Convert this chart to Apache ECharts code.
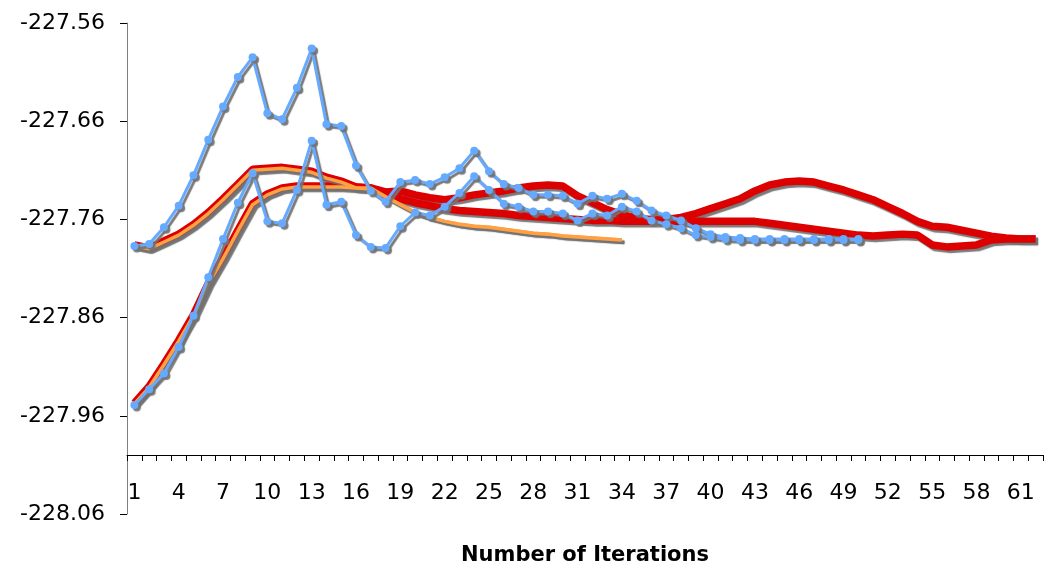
<!DOCTYPE html>
<html>
<head>
<meta charset="utf-8">
<script src="https://cdn.jsdelivr.net/npm/echarts@6/dist/echarts.min.js"></script>
<style>
html,body{margin:0;padding:0;background:#fff;}
#chart{width:1044px;height:571px;}
</style>
</head>
<body>
<div id="chart"></div>
<script>
// Categories: iteration numbers 1..62
const categories = ["1","2","3","4","5","6","7","8","9","10","11","12","13","14","15","16","17","18","19","20","21","22","23","24","25","26","27","28","29","30","31","32","33","34","35","36","37","38","39","40","41","42","43","44","45","46","47","48","49","50","51","52","53","54","55","56","57","58","59","60","61","62"];

// Y axis range / tick step
const yMin = -228.06;
const yMax = -227.56;
const yStep = 0.1;

// Blue series with markers (iterations 1..50)
const blueA = [-227.787,-227.785,-227.768,-227.746,-227.715,-227.679,-227.645,-227.615,-227.595,-227.652,
  -227.658,-227.626,-227.586,-227.663,-227.665,-227.705,-227.731,-227.742,-227.722,-227.720,
  -227.724,-227.717,-227.708,-227.690,-227.711,-227.724,-227.728,-227.735,-227.735,-227.736,
  -227.744,-227.736,-227.739,-227.734,-227.741,-227.751,-227.756,-227.761,-227.769,-227.775,
  -227.778,-227.779,-227.780,-227.780,-227.780,-227.780,-227.780,-227.780,-227.780,-227.780];
const blueB = [-227.949,-227.933,-227.917,-227.890,-227.858,-227.819,-227.780,-227.743,-227.713,-227.762,
  -227.764,-227.730,-227.680,-227.745,-227.742,-227.776,-227.788,-227.789,-227.767,-227.753,
  -227.756,-227.747,-227.733,-227.716,-227.730,-227.744,-227.747,-227.752,-227.752,-227.754,
  -227.761,-227.754,-227.756,-227.747,-227.752,-227.761,-227.765,-227.769,-227.776,-227.778,
  -227.780,-227.781,-227.781,-227.781,-227.781,-227.781,-227.781,-227.781,-227.781,-227.781];

// Orange smooth series (iterations 1..34)
const orangeA = [-227.787,-227.790,-227.783,-227.776,-227.766,-227.754,-227.740,-227.725,-227.710,-227.709,
  -227.708,-227.710,-227.712,-227.718,-227.722,-227.728,-227.728,-227.737,-227.745,-227.753,
  -227.758,-227.762,-227.765,-227.767,-227.768,-227.770,-227.772,-227.774,-227.775,-227.777,
  -227.778,-227.779,-227.780,-227.781];
const orangeB = [-227.948,-227.931,-227.908,-227.884,-227.858,-227.826,-227.800,-227.772,-227.745,-227.735,
  -227.729,-227.727,-227.727,-227.727,-227.727,-227.728,-227.729,-227.737,-227.745,-227.753,
  -227.758,-227.762,-227.765,-227.767,-227.768,-227.770,-227.772,-227.774,-227.775,-227.777,
  -227.778,-227.779,-227.780,-227.781];

// Thick red series (iterations 1..62)
const redA = [-227.786,-227.789,-227.782,-227.775,-227.765,-227.753,-227.739,-227.724,-227.709,-227.708,
  -227.707,-227.709,-227.711,-227.717,-227.721,-227.727,-227.728,-227.732,-227.731,-227.735,
  -227.738,-227.740,-227.738,-227.735,-227.733,-227.731,-227.728,-227.726,-227.725,-227.726,
  -227.736,-227.743,-227.750,-227.755,-227.759,-227.760,-227.760,-227.758,-227.754,-227.749,
  -227.744,-227.739,-227.731,-227.725,-227.722,-227.721,-227.722,-227.726,-227.730,-227.735,
  -227.740,-227.747,-227.754,-227.762,-227.767,-227.768,-227.771,-227.774,-227.777,-227.779,
  -227.780,-227.780];
const redB = [-227.947,-227.930,-227.907,-227.883,-227.857,-227.825,-227.799,-227.771,-227.744,-227.734,
  -227.728,-227.726,-227.726,-227.726,-227.726,-227.727,-227.728,-227.737,-227.739,-227.743,
  -227.746,-227.749,-227.751,-227.752,-227.753,-227.754,-227.756,-227.757,-227.758,-227.759,
  -227.760,-227.761,-227.761,-227.762,-227.762,-227.762,-227.762,-227.762,-227.762,-227.762,
  -227.762,-227.762,-227.762,-227.764,-227.766,-227.768,-227.770,-227.772,-227.774,-227.776,
  -227.777,-227.776,-227.775,-227.776,-227.786,-227.788,-227.787,-227.786,-227.781,-227.780,
  -227.780,-227.780];

const FONT = 'DejaVu Sans';
const SHADOW = {shadowColor:'rgba(115,115,115,0.95)', shadowBlur:1, shadowOffsetX:2.5, shadowOffsetY:2.5};

function redSeries(data){
  return {type:'line', data:data, symbol:'none', smooth:false,
    lineStyle:Object.assign({color:'#dd0000', width:7.5}, SHADOW), z:1};
}
function orangeSeries(data){
  return {type:'line', data:data, symbol:'none',
    lineStyle:Object.assign({color:'#ffa042', width:3.5}, SHADOW), z:2};
}
function blueSeries(data){
  return {type:'line', data:data, symbol:'circle', symbolSize:8, showAllSymbol:true,
    itemStyle:Object.assign({color:'#66aaff', borderWidth:0}, SHADOW),
    lineStyle:Object.assign({color:'#66aaff', width:3}, SHADOW), z:3};
}

const chart = echarts.init(document.getElementById('chart'), null, {renderer:'canvas'});
chart.setOption({
  animation:false,
  backgroundColor:'#ffffff',
  grid:{left:127, right:1, top:23, bottom:53, containLabel:false},
  xAxis:{
    type:'category', data:categories, boundaryGap:true,
    offset:-59,
    axisLine:{show:true, lineStyle:{color:'#000', width:1}},
    axisTick:{show:true, interval:0, inside:false, length:6, lineStyle:{color:'#000'}},
    axisLabel:{interval:2, margin:27, color:'#000', fontFamily:FONT, fontSize:22},
    splitLine:{show:false},
    name:'Number of Iterations', nameLocation:'middle', nameGap:90,
    nameTextStyle:{color:'#000', fontFamily:FONT, fontSize:21, fontWeight:'bold'}
  },
  yAxis:{
    type:'value', min:yMin, max:yMax, interval:yStep,
    axisLine:{show:true, lineStyle:{color:'#808080', width:1}},
    axisTick:{show:true, length:7, lineStyle:{color:'#000'}},
    axisLabel:{margin:22, color:'#000', fontFamily:FONT, fontSize:22,
      formatter:function(v){return v.toFixed(2);}},
    splitLine:{show:false}
  },
  series:[
    redSeries(redA), redSeries(redB),
    orangeSeries(orangeA), orangeSeries(orangeB),
    blueSeries(blueA), blueSeries(blueB)
  ]
});
</script>
</body>
</html>
